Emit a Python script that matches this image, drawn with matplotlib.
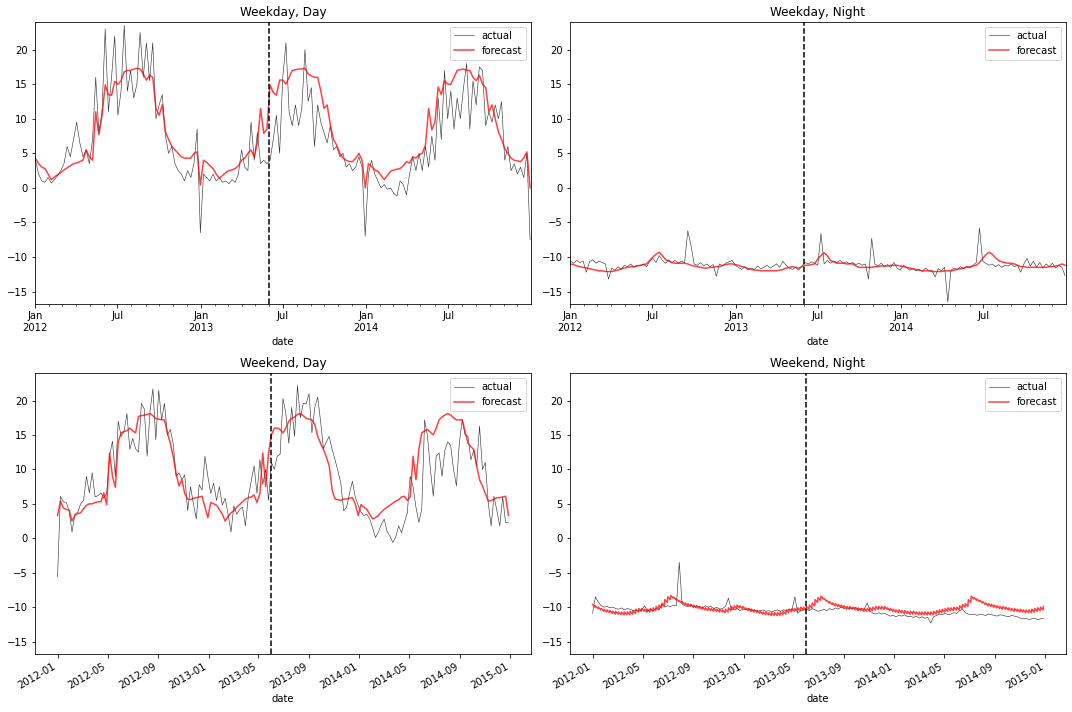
import matplotlib
matplotlib.use('Agg')
import matplotlib.dates as mdates
import matplotlib.pyplot as plt
import pandas as pd
from matplotlib.ticker import FuncFormatter

# weekly readings, weekdays start Mon 2012-01-02, weekends start Sun 2012-01-01
weekday_dates = pd.date_range('2012-01-02', periods=157, freq='7D')
weekend_dates = pd.date_range('2012-01-01', periods=157, freq='7D')
saturday_dates = pd.date_range('2012-01-07', periods=156, freq='7D')
split_date = pd.Timestamp('2013-06-01')

wd_day_actual = [
    4.0, 2.0, 1.0, 0.8, 1.5, 0.7, 1.2, 1.8, 2.5, 3.5,
    6.0, 4.5, 7.0, 9.5, 6.5, 4.5, 5.5, 3.5, 7.0, 16.0,
    8.0, 11.0, 23.0, 11.0, 16.0, 22.0, 10.5, 14.0, 23.5, 14.0,
    17.0, 13.0, 15.0, 22.5, 16.0, 21.0, 15.5, 21.0, 10.0, 12.0,
    13.5, 7.5, 5.0, 6.0, 3.5, 2.5, 2.0, 1.0, 2.5, 1.5,
    3.5, 8.5, -6.5, 2.0, 1.5, 1.0, 2.0, 1.0, 1.5, 0.8,
    1.0, 0.6, 1.2, 0.8, 2.0, 5.5, 3.0, 2.5, 9.5, 4.0,
    8.0, 3.5, 4.0, 3.5, 4.0, 7.0, 10.5, 5.0, 16.0, 21.0,
    11.0, 9.0, 12.0, 9.0, 11.5, 20.0, 12.5, 14.5, 6.0, 12.0,
    9.5, 8.0, 6.5, 9.0, 5.5, 6.0, 4.5, 5.0, 3.0, 3.5,
    2.5, 3.0, 4.5, 3.0, -7.0, 2.0, 4.0, 2.0, 1.0, 0.0,
    0.5, -0.2, 0.0, -0.8, -1.2, 1.0, 0.5, -1.0, 2.0, 4.5,
    2.5, 5.0, 2.5, 6.0, 3.0, 7.5, 4.0, 13.0, 7.0, 17.0,
    10.0, 14.0, 8.5, 13.0, 10.0, 14.5, 18.0, 8.5, 15.5, 12.0,
    17.5, 17.0, 9.0, 11.0, 9.5, 12.0, 10.0, 12.5, 4.0, 6.0,
    2.5, 3.5, 2.0, 3.0, 1.5, 5.0, -7.5,
]
wd_day_forecast = [
    4.3, 3.5, 3.0, 2.8, 2.0, 1.2, 1.6, 1.9, 2.2, 2.6,
    2.9, 3.2, 3.5, 3.6, 3.8, 4.0, 5.5, 4.5, 4.0, 11.0,
    7.7, 10.5, 14.9, 13.5, 13.4, 15.4, 15.0, 15.5, 16.8, 17.0,
    17.0, 17.2, 17.3, 17.2, 16.5, 15.6, 16.3, 16.0, 11.5, 10.5,
    12.0, 8.1, 7.0, 6.0, 5.5, 5.0, 4.5, 4.3, 4.3, 4.3,
    5.0, 5.2, 0.4, 4.0, 3.7, 3.2, 2.8, 2.0, 1.4, 1.8,
    2.2, 2.5, 2.6, 2.8, 3.2, 4.0, 4.3, 5.0, 5.5, 4.5,
    6.5, 11.5, 7.9, 8.5, 14.9, 13.8, 13.4, 15.6, 15.6, 15.0,
    16.0, 17.0, 17.1, 17.2, 17.2, 17.3, 16.5, 16.2, 16.0, 16.0,
    14.0, 11.5, 12.0, 9.1, 7.0, 6.2, 5.0, 4.3, 4.0, 3.8,
    3.8, 4.3, 5.0, 4.0, 0.0, 3.5, 3.1, 2.6, 2.4, 1.8,
    1.2, 1.8, 2.4, 2.6, 2.7, 2.8, 3.2, 3.8, 3.6, 4.5,
    4.3, 4.8, 5.0, 6.2, 11.5, 8.4, 9.5, 14.6, 13.5, 15.5,
    15.0, 15.0, 16.0, 17.0, 17.1, 17.2, 17.0, 17.0, 16.0, 15.5,
    16.3, 15.0, 14.5, 11.0, 12.0, 10.0, 8.1, 7.0, 5.7, 5.0,
    4.3, 4.0, 3.9, 3.8, 4.3, 5.2, 0.0,
]
wd_night_actual = [
    -10.6, -10.9, -10.5, -10.8, -10.6, -12.2, -10.7, -10.4, -10.9, -10.6,
    -10.8, -11.0, -13.2, -11.6, -11.9, -11.4, -11.8, -11.2, -11.4, -11.0,
    -11.5, -11.2, -11.3, -11.0, -11.4, -10.6, -10.2, -10.8, -9.8, -10.5,
    -10.9, -10.4, -10.8, -10.5, -10.9, -10.6, -10.8, -6.2, -8.3, -11.0,
    -11.2, -10.8, -11.3, -11.0, -11.4, -11.1, -12.8, -11.0, -11.3, -10.9,
    -10.7, -10.5, -11.2, -11.5, -11.8, -11.4, -11.9, -11.6, -11.8, -11.3,
    -11.7, -11.5, -11.2, -11.6, -11.3, -11.0, -11.5, -10.6, -11.2, -11.6,
    -11.8, -11.5, -11.9, -11.3, -10.8, -11.0, -10.7, -10.9, -11.2, -6.6,
    -11.0, -10.5, -10.9, -10.6, -10.8, -10.5, -10.9, -10.7, -11.0, -10.8,
    -11.1, -10.9, -11.2, -11.0, -13.2, -7.3, -11.0, -11.3, -10.9, -11.4,
    -11.1, -11.5, -10.8, -11.6, -11.9, -11.2, -11.5, -11.9, -11.7, -12.0,
    -11.8, -12.1, -11.6, -12.0, -11.9, -12.9, -11.7, -12.0, -11.5, -16.5,
    -11.9, -11.6, -11.8, -11.4, -11.7, -11.3, -11.6, -11.2, -10.8, -5.8,
    -10.6, -10.9, -11.2, -11.0, -11.4, -11.1, -11.5, -11.2, -11.3, -11.0,
    -11.4, -11.2, -12.2, -11.0, -10.2, -11.3, -10.6, -11.5, -10.8, -11.6,
    -11.0, -11.4, -10.9, -11.6, -11.2, -11.5, -12.7,
]
wd_night_forecast = [
    -11.0, -11.1, -11.3, -11.4, -11.5, -11.6, -11.7, -11.8, -11.9, -12.0,
    -12.0, -12.1, -12.1, -12.1, -12.0, -11.9, -11.7, -11.6, -11.5, -11.4,
    -11.4, -11.3, -11.2, -11.1, -11.0, -10.5, -10.0, -9.6, -9.3, -9.8,
    -10.4, -10.6, -10.8, -10.9, -10.9, -10.9, -10.9, -11.0, -11.2, -11.3,
    -11.4, -11.5, -11.6, -11.6, -11.5, -11.5, -11.4, -11.4, -11.2, -11.1,
    -11.0, -11.0, -11.1, -11.2, -11.4, -11.5, -11.7, -11.8, -11.9, -11.9,
    -12.0, -12.0, -12.0, -12.0, -12.0, -12.0, -11.9, -11.8, -11.6, -11.5,
    -11.4, -11.5, -11.6, -11.4, -11.2, -11.2, -11.1, -11.0, -10.3, -9.8,
    -9.4, -9.8, -10.5, -10.7, -10.9, -10.9, -10.9, -11.0, -11.0, -11.0,
    -11.3, -11.5, -11.5, -11.5, -11.5, -11.5, -11.4, -11.4, -11.3, -11.3,
    -11.3, -11.2, -11.2, -11.2, -11.3, -11.4, -11.5, -11.6, -11.7, -11.8,
    -11.9, -12.0, -12.0, -12.0, -12.1, -12.1, -12.1, -12.1, -12.0, -12.0,
    -12.0, -11.9, -11.8, -11.7, -11.6, -11.5, -11.4, -11.3, -11.2, -10.8,
    -10.2, -9.7, -9.3, -9.6, -10.1, -10.5, -10.7, -10.8, -10.9, -10.9,
    -11.0, -11.2, -11.4, -11.4, -11.5, -11.5, -11.5, -11.5, -11.5, -11.5,
    -11.5, -11.4, -11.4, -11.3, -11.2, -11.0, -11.2,
]
we_day_actual = [
    -5.6, 6.1, 5.3, 5.2, 4.0, 0.9, 3.5, 3.8, 5.0, 5.5,
    9.0, 6.6, 9.5, 6.0, 6.2, 6.6, 5.8, 6.5, 12.0, 14.1,
    9.0, 17.0, 14.8, 15.5, 18.1, 12.9, 14.5, 13.0, 12.5, 19.6,
    18.8, 11.9, 18.5, 21.7, 14.3, 21.5, 17.2, 19.6, 15.0, 15.8,
    13.8, 9.0, 9.5, 8.5, 9.2, 4.0, 7.5, 5.0, 2.8, 7.8,
    7.0, 11.9, 9.0, 6.5, 8.0, 5.5, 7.5, 4.8, 5.8, 3.5,
    0.9, 4.7, 3.5, 4.2, 4.5, 1.8, 6.0, 8.3, 10.5, 6.5,
    11.4, 7.8, 10.0, 5.5, 11.0, 10.0, 11.9, 12.2, 20.3, 18.1,
    13.8, 19.0, 14.8, 22.2, 17.5, 19.6, 19.5, 21.0, 15.3, 19.0,
    20.5, 17.0, 13.0, 14.0, 14.8, 12.9, 11.4, 9.8, 8.0, 4.0,
    4.5, 6.5, 8.3, 6.0, 4.8, 3.8, 3.3, 3.5, 2.8, 1.5,
    0.1, 0.9, 2.0, 2.8, 1.0, 0.3, -0.6, 0.2, 1.8, 0.8,
    2.3, 3.7, 9.0, 7.5, 4.5, 2.3, 4.2, 17.2, 14.8, 10.0,
    6.1, 11.9, 12.4, 9.0, 12.8, 14.0, 13.5, 10.0, 7.6, 13.8,
    17.2, 15.0, 14.8, 11.4, 12.8, 10.5, 16.3, 10.0, 11.0, 5.2,
    1.8, 6.1, 4.0, 1.8, 6.0, 2.3, 2.3,
]
we_day_forecast = [
    3.3, 5.4, 4.4, 4.2, 4.1, 2.5, 3.3, 3.6, 3.7, 4.3,
    4.8, 5.0, 5.0, 5.2, 5.3, 5.3, 6.6, 4.9, 12.4, 9.0,
    7.4, 14.0, 15.3, 15.5, 15.6, 16.0, 15.6, 15.3, 17.7, 17.8,
    17.9, 18.0, 18.1, 17.8, 17.4, 17.3, 17.2, 17.2, 15.3, 13.8,
    11.9, 9.5, 7.6, 8.5, 6.5, 5.7, 5.6, 5.8, 5.9, 6.0,
    6.1, 4.5, 3.0, 5.2, 5.0, 4.8, 4.2, 3.5, 2.5, 3.2,
    3.7, 4.0, 4.5, 4.9, 5.3, 5.7, 5.9, 6.0, 6.3, 5.2,
    6.5, 12.4, 7.5, 12.4, 15.0, 16.0, 16.0, 15.8, 15.3, 16.0,
    17.0, 17.4, 17.6, 18.0, 18.1, 17.8, 17.4, 17.3, 17.2, 16.5,
    14.8, 13.8, 12.9, 11.8, 10.5, 7.0, 5.7, 5.6, 5.5, 5.7,
    5.7, 5.8, 5.9, 5.0, 3.3, 4.9, 4.5, 4.2, 3.5, 2.8,
    3.0, 3.3, 3.8, 4.2, 4.5, 4.8, 5.1, 5.4, 5.6, 6.0,
    6.1, 5.5, 6.0, 11.9, 8.5, 12.9, 15.3, 15.6, 15.8, 15.4,
    15.0, 16.0, 17.2, 17.6, 17.9, 18.1, 17.9, 17.5, 17.2, 17.2,
    17.2, 15.5, 13.8, 13.3, 12.9, 10.5, 8.5, 7.6, 6.5, 5.4,
    5.5, 5.7, 5.9, 5.9, 6.0, 6.1, 3.3,
]
we_night_actual = [
    -10.9, -8.5, -9.3, -9.8, -10.0, -9.9, -10.1, -10.0, -10.2, -10.3,
    -10.1, -10.4, -10.2, -10.3, -10.5, -10.4, -10.6, -10.4, -9.8, -10.6,
    -10.3, -10.5, -10.2, -10.4, -9.6, -10.0, -9.8, -9.9, -9.7, -9.8,
    -3.5, -9.6, -9.8, -9.9, -9.7, -10.0, -9.8, -9.9, -10.1, -9.8,
    -10.0, -9.9, -10.2, -10.0, -10.3, -10.2, -9.9, -8.7, -10.3, -10.4,
    -10.2, -10.5, -10.3, -10.4, -10.2, -10.5, -10.4, -10.6, -10.5, -10.4,
    -10.6, -10.5, -10.7, -10.5, -10.4, -10.6, -10.4, -10.5, -10.3, -10.4,
    -8.5, -10.9, -10.5, -10.4, -10.3, -10.5, -10.2, -10.4, -10.6, -10.5,
    -10.3, -10.5, -10.2, -10.4, -10.1, -10.3, -10.0, -10.2, -10.3, -10.1,
    -10.2, -10.0, -10.4, -10.2, -10.3, -9.4, -10.5, -10.9, -11.0, -10.8,
    -11.0, -10.9, -11.1, -11.3, -11.2, -11.4, -11.2, -11.3, -11.1, -11.4,
    -11.3, -11.5, -11.3, -11.6, -11.4, -11.6, -11.5, -12.3, -11.4, -11.2,
    -11.0, -11.1, -10.9, -11.1, -11.0, -10.8, -10.9, -10.5, -10.3, -10.8,
    -11.0, -11.1, -11.0, -11.2, -11.0, -11.1, -11.2, -11.0, -11.1, -11.2,
    -11.3, -11.1, -11.2, -11.3, -11.4, -11.2, -11.3, -11.4, -11.6, -11.7,
    -11.6, -11.8, -11.7, -11.6, -11.8, -11.7, -11.6,
]
# weekend night forecast alternates between Sunday (upper) and Saturday (lower)
we_night_forecast_sun = [
    -9.6, -9.8, -10.0, -10.2, -10.3, -10.4, -10.5, -10.6, -10.6, -10.7,
    -10.7, -10.7, -10.7, -10.6, -10.5, -10.3, -10.2, -10.2, -10.3, -10.3,
    -10.2, -10.1, -9.9, -9.7, -9.4, -8.9, -8.5, -8.3, -8.5, -8.8,
    -9.0, -9.2, -9.4, -9.5, -9.6, -9.7, -9.8, -9.9, -10.0, -10.1,
    -10.1, -10.2, -10.2, -10.3, -10.3, -10.4, -10.3, -10.1, -9.9, -9.8,
    -9.7, -9.8, -9.9, -10.1, -10.2, -10.3, -10.4, -10.5, -10.6, -10.7,
    -10.7, -10.8, -10.8, -10.8, -10.8, -10.7, -10.6, -10.4, -10.3, -10.2,
    -10.2, -10.1, -10.0, -10.0, -9.9, -9.7, -9.4, -8.9, -8.6, -8.4,
    -8.7, -9.0, -9.2, -9.4, -9.5, -9.6, -9.7, -9.8, -9.9, -9.9,
    -10.0, -10.1, -10.1, -10.2, -10.2, -10.2, -10.1, -10.0, -9.9, -9.9,
    -9.9, -9.9, -10.1, -10.2, -10.3, -10.4, -10.4, -10.5, -10.5, -10.6,
    -10.6, -10.6, -10.7, -10.7, -10.7, -10.7, -10.7, -10.7, -10.6, -10.5,
    -10.4, -10.3, -10.2, -10.1, -10.1, -10.0, -10.0, -9.8, -9.6, -9.5,
    -8.9, -8.4, -8.6, -8.8, -9.0, -9.2, -9.4, -9.5, -9.6, -9.7,
    -9.8, -9.9, -9.9, -10.0, -10.1, -10.2, -10.2, -10.3, -10.3, -10.4,
    -10.4, -10.4, -10.3, -10.2, -10.1, -10.0, -9.9,
]
we_night_forecast_sat = [
    -10.0, -10.2, -10.4, -10.6, -10.7, -10.8, -10.9, -11.0, -11.0, -11.1,
    -11.1, -11.1, -11.1, -11.0, -10.9, -10.7, -10.6, -10.6, -10.7, -10.7,
    -10.6, -10.5, -10.3, -10.1, -9.8, -9.3, -8.9, -8.7, -8.9, -9.2,
    -9.4, -9.6, -9.8, -9.9, -10.0, -10.1, -10.2, -10.3, -10.4, -10.5,
    -10.5, -10.6, -10.6, -10.7, -10.7, -10.8, -10.7, -10.5, -10.3, -10.2,
    -10.1, -10.2, -10.3, -10.5, -10.6, -10.7, -10.8, -10.9, -11.0, -11.1,
    -11.1, -11.2, -11.2, -11.2, -11.2, -11.1, -11.0, -10.8, -10.7, -10.6,
    -10.6, -10.5, -10.4, -10.4, -10.3, -10.1, -9.8, -9.3, -9.0, -8.8,
    -9.1, -9.4, -9.6, -9.8, -9.9, -10.0, -10.1, -10.2, -10.3, -10.3,
    -10.4, -10.5, -10.5, -10.6, -10.6, -10.6, -10.5, -10.4, -10.3, -10.3,
    -10.3, -10.3, -10.5, -10.6, -10.7, -10.8, -10.8, -10.9, -10.9, -11.0,
    -11.0, -11.0, -11.1, -11.1, -11.1, -11.1, -11.1, -11.1, -11.0, -10.9,
    -10.8, -10.7, -10.6, -10.5, -10.5, -10.4, -10.4, -10.2, -10.0, -9.9,
    -9.3, -8.8, -9.0, -9.2, -9.4, -9.6, -9.8, -9.9, -10.0, -10.1,
    -10.2, -10.3, -10.3, -10.4, -10.5, -10.6, -10.6, -10.7, -10.7, -10.8,
    -10.8, -10.8, -10.7, -10.6, -10.5, -10.4,
]

we_night_forecast = pd.concat([
    pd.Series(we_night_forecast_sun, index=weekend_dates),
    pd.Series(we_night_forecast_sat, index=saturday_dates),
]).sort_index()

panels = [
    ('Weekday, Day', pd.Series(wd_day_actual, index=weekday_dates),
     pd.Series(wd_day_forecast, index=weekday_dates), [35, 22, 531, 304], 'top'),
    ('Weekday, Night', pd.Series(wd_night_actual, index=weekday_dates),
     pd.Series(wd_night_forecast, index=weekday_dates), [570, 22, 1066, 304], 'top'),
    ('Weekend, Day', pd.Series(we_day_actual, index=weekend_dates),
     pd.Series(we_day_forecast, index=weekend_dates), [35, 373, 531, 654], 'bottom'),
    ('Weekend, Night', pd.Series(we_night_actual, index=weekend_dates),
     we_night_forecast, [570, 373, 1066, 654], 'bottom'),
]

# reference was rendered at 72 dpi, so 1 pt = 1 px
W, H, DPI = 1072, 712, 72
fig = plt.figure(figsize=(W / DPI, H / DPI), dpi=DPI)


def jan_jul_label(x, pos):
    d = mdates.num2date(x)
    if d.month == 1:
        return f'{d:%b}\n{d:%Y}'
    return f'{d:%b}'


for title, actual, forecast, (x0, y0, x1, y1), row in panels:
    ax = fig.add_axes([x0 / W, 1 - y1 / H, (x1 - x0) / W, (y1 - y0) / H])
    ax.plot(actual.index, actual.values, color='k', lw=0.6, alpha=0.8, label='actual')
    ax.plot(forecast.index, forecast.values, color='r', lw=1.5, alpha=0.75, label='forecast')
    ax.axvline(split_date, color='k', ls='--', lw=1.5)
    ax.set_ylim(-16.8, 24.0)
    ax.set_yticks([-15, -10, -5, 0, 5, 10, 15, 20])
    ax.set_title(title)
    ax.set_xlabel('date')
    ax.legend(loc='upper right')

    if row == 'top':
        ax.set_xlim(pd.Timestamp('2012-01-01'), pd.Timestamp('2014-12-31'))
        ax.xaxis.set_major_locator(mdates.MonthLocator(bymonth=[1, 7]))
        ax.xaxis.set_major_formatter(FuncFormatter(jan_jul_label))
        ax.xaxis.set_minor_locator(mdates.MonthLocator())
    else:
        ax.xaxis.set_major_locator(mdates.MonthLocator(bymonth=[1, 5, 9]))
        ax.xaxis.set_major_formatter(mdates.DateFormatter('%Y-%m'))
        for lbl in ax.get_xticklabels():
            lbl.set_rotation(30)
            lbl.set_ha('right')

fig.savefig('out.png', dpi=DPI)
